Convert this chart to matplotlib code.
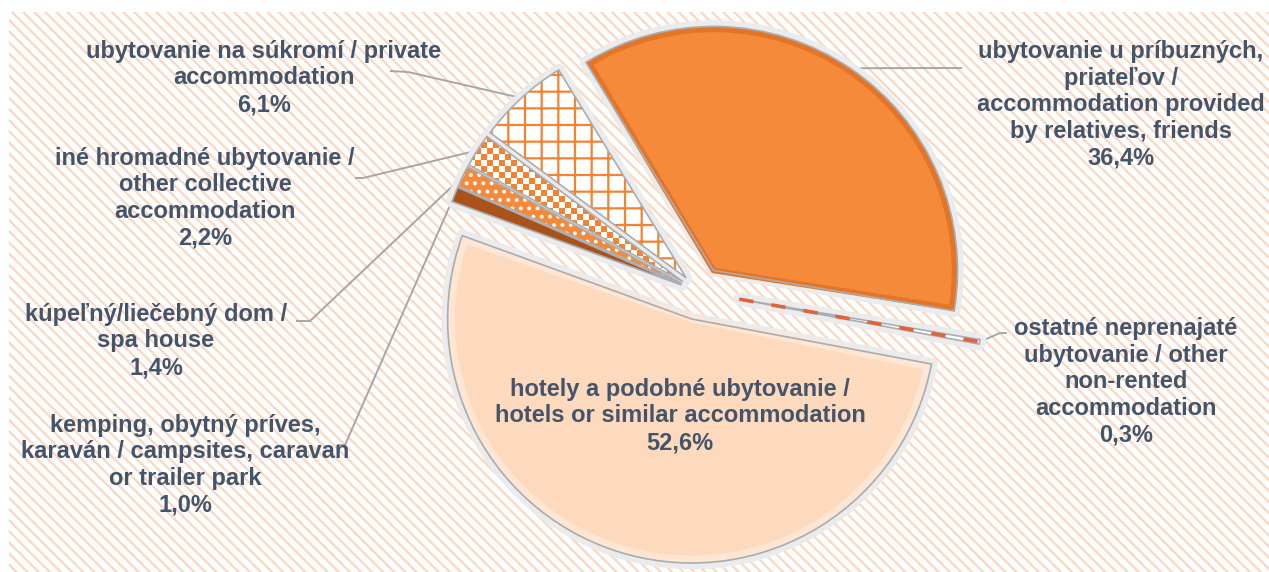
import matplotlib
matplotlib.use("Agg")
import matplotlib.pyplot as plt
import numpy as np
from matplotlib.patches import Rectangle, Wedge
from matplotlib.colors import ListedColormap

# ---------------- data ----------------
categories = [
    "ubytovanie u príbuzných,\npriateľov /\naccommodation provided\nby relatives, friends",
    "ostatné neprenajaté\nubytovanie / other\nnon-rented\naccommodation",
    "hotely a podobné ubytovanie /\nhotels or similar accommodation",
    "kemping, obytný príves,\nkaraván / campsites, caravan\nor trailer park",
    "kúpeľný/liečebný dom /\nspa house",
    "iné hromadné ubytovanie /\nother collective\naccommodation",
    "ubytovanie na súkromí / private\naccommodation",
]
values = [36.4, 0.3, 52.6, 1.0, 1.4, 2.2, 6.1]

# ---------------- layout / style ----------------
W, H = 1269, 572
def Y(y):
    return H - y

center = (699, Y(292))
R = 244
explode = [26, 41, 28, 19, 19, 19, 19]
face = ["#F68A3B", "#FFFFFF", "#FDD9BE", "#A9521A", "#F5893A", "#FFFFFF", "#FFFFFF"]
label_pos = [(1121, 105), (1126, 382), (680, 416), (185, 465), (156, 341), (205, 198), (264, 78)]
# leader: label-side point, stub end (image coords); None = no leader
leaders = [((962, 68), (955, 68)), ((1007, 333), (1000, 333)), None,
           ((337, 445), (345, 445)), ((296, 321), (310, 321)),
           ((355, 178), (363, 178)), ((390, 71), (408, 72))]
TXT = "#44546A"
ORANGE = "#F4822F"

plt.rcParams["hatch.linewidth"] = 1.6

fig = plt.figure(figsize=(W / 100, H / 100), dpi=100)
ax = fig.add_axes([0, 0, 1, 1])

# background striped panel
bg = Rectangle((9, 0), W - 9, H - 12, facecolor="white", edgecolor="#FBD6C0",
               hatch="\\\\\\", linewidth=0, zorder=0)
ax.add_patch(bg)

wedges, _ = ax.pie(values, explode=explode, startangle=121.5, counterclock=False,
                   radius=R, center=center, colors=face,
                   wedgeprops=dict(linewidth=0), frame=True)

for i, w in enumerate(wedges):
    w.set_zorder(3)
    # white halo / bevel around each slice
    halo = Wedge(w.center, w.r, w.theta1, w.theta2, facecolor="none",
                 edgecolor="#EBEBEB", linewidth=9, zorder=2, joinstyle="round")
    ax.add_patch(halo)

# patterns
wedges[6].set_hatch("+")
wedges[6].set_edgecolor(ORANGE)
wedges[4].set_hatch("..")
wedges[4].set_edgecolor("white")

# inner light rim on the hotels slice
w = wedges[2]
ax.add_patch(Wedge(w.center, w.r - 4, w.theta1 + 0.8, w.theta2 - 0.8, width=None,
                   facecolor="none", edgecolor="#FEE6D2", linewidth=5, zorder=3.2))
w = wedges[0]
ax.add_patch(Wedge(w.center, w.r - 3, w.theta1 + 0.6, w.theta2 - 0.6,
                   facecolor="none", edgecolor="#E57526", linewidth=4, zorder=3.2))

# checkerboard for "iné" slice
w = wedges[5]
n = 90
ii, jj = np.meshgrid(np.arange(n), np.arange(n))
checker = (ii + jj) % 2
cx, cy = w.center
im = ax.imshow(checker, cmap=ListedColormap(["white", ORANGE]), interpolation="nearest",
               extent=(cx - R, cx - R + n * 6, cy - R, cy - R + n * 6), zorder=3.5)
im.set_clip_path(w)

# outlines
for i, w in enumerate(wedges):
    ol = Wedge(w.center, w.r, w.theta1, w.theta2, facecolor="none",
               edgecolor="#A9ADB2", linewidth=1.2, zorder=4)
    ax.add_patch(ol)

# dashed red line through the tiny "ostatné" slice
w = wedges[1]
thm = np.deg2rad((w.theta1 + w.theta2) / 2)
ax.plot([w.center[0], w.center[0] + w.r * np.cos(thm)],
        [w.center[1], w.center[1] + w.r * np.sin(thm)],
        color="#E2623A", lw=2.6, dashes=(4, 5), zorder=4.5, solid_capstyle="butt")

# labels and leader lines
for i, w in enumerate(wedges):
    pct = f"{values[i]:.1f}%".replace(".", ",")
    lx, ly = label_pos[i]
    ax.text(lx, Y(ly), categories[i] + "\n" + pct, ha="center", va="center",
            fontsize=17, fontweight="bold", color=TXT, family="Liberation Sans",
            linespacing=1.2, zorder=6)
    if leaders[i] is not None:
        thm = np.deg2rad((w.theta1 + w.theta2) / 2)
        ax_, ay_ = w.center[0] + w.r * np.cos(thm), w.center[1] + w.r * np.sin(thm)
        (x0, y0), (x1, y1) = leaders[i]
        ax.plot([x0, x1, ax_], [Y(y0), Y(y1), ay_], color="#A6A6A6", lw=1.4,
                zorder=1.5, solid_capstyle="butt")

ax.set_xlim(0, W)
ax.set_ylim(0, H)
ax.set_aspect("auto")
ax.axis("off")
fig.savefig("out.png", dpi=100, facecolor="white")
